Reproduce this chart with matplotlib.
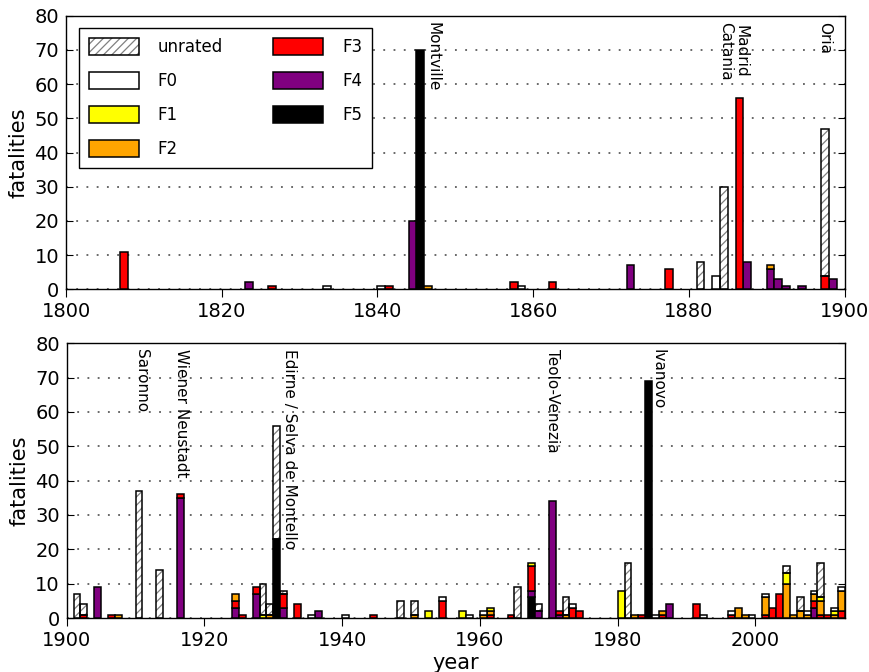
import matplotlib
matplotlib.use("Agg")
import matplotlib.pyplot as plt
import numpy as np
from matplotlib.patches import Patch
from matplotlib.legend_handler import HandlerTuple

plt.rcParams['font.family'] = ['DejaVu Sans']
plt.rcParams['hatch.linewidth'] = 0.9

ratings = ['F5', 'F4', 'F3', 'F2', 'F1', 'F0', 'unrated']
colors = {'F5': 'black', 'F4': 'purple', 'F3': 'red', 'F2': 'orange',
          'F1': 'yellow', 'F0': 'white', 'unrated': 'white'}

# ---- 19th century ----
top_years = [1807, 1823, 1826, 1833, 1840, 1841, 1844, 1845, 1846, 1857, 1858,
             1862, 1872, 1877, 1881, 1883, 1884, 1886, 1887, 1890, 1891, 1892,
             1894, 1897, 1898]
top_F5 = [0, 0, 0, 0, 0, 0, 0, 70, 0, 0, 0, 0, 0, 0, 0, 0, 0, 0, 0, 0, 0, 0, 0, 0, 0]
top_F4 = [0, 2, 0, 0, 0, 0, 20, 0, 0, 0, 0, 0, 7, 0, 0, 0, 0, 0, 8, 6, 3, 1, 1, 0, 3]
top_F3 = [11, 0, 1, 0, 0, 1, 0, 0, 0, 2, 0, 2, 0, 6, 0, 0, 0, 56, 0, 0, 0, 0, 0, 4, 0]
top_F2 = [0, 0, 0, 0, 0, 0, 0, 0, 1, 0, 0, 0, 0, 0, 0, 0, 0, 0, 0, 1, 0, 0, 0, 0, 0]
top_F1 = [0] * 25
top_F0 = [0, 0, 0, 1, 1, 0, 0, 0, 0, 0, 1, 0, 0, 0, 0, 4, 0, 0, 0, 0, 0, 0, 0, 0, 0]
top_U = [0, 0, 0, 0, 0, 0, 0, 0, 0, 0, 0, 0, 0, 0, 8, 0, 30, 0, 0, 0, 0, 0, 0, 43, 0]

top_labels = ['Montville', 'Madrid\nCatania', 'Oria']
top_label_x = [1847.2, 1885.7, 1897.5]

# ---- 20th/21st century ----
bot_years = [1901, 1902, 1904, 1906, 1907, 1910, 1913, 1916, 1924, 1925, 1927,
             1928, 1929, 1930, 1931, 1933, 1935, 1936, 1940, 1944, 1948, 1950,
             1952, 1954, 1957, 1958, 1960, 1961, 1964, 1965, 1967, 1968, 1970,
             1971, 1972, 1973, 1974, 1980, 1981, 1982, 1983, 1984, 1985, 1986,
             1987, 1991, 1992, 1996, 1997, 1998, 1999, 2001, 2002, 2003, 2004,
             2005, 2006, 2007, 2008, 2009, 2010, 2011, 2012]
bot_F5 = [0, 0, 0, 0, 0, 0, 0, 0, 0, 0, 0, 0, 0, 23, 0, 0, 0, 0, 0, 0, 0, 0,
          0, 0, 0, 0, 0, 0, 0, 0, 6, 0, 0, 0, 0, 0, 0, 0, 0, 0, 0, 69, 0, 0,
          0, 0, 0, 0, 0, 0, 0, 0, 0, 0, 0, 0, 0, 0, 0, 0, 0, 0, 0]
bot_F4 = [0, 0, 9, 0, 0, 0, 0, 35, 3, 0, 7, 0, 0, 0, 3, 0, 0, 2, 0, 0, 0, 0,
          0, 0, 0, 0, 0, 0, 0, 0, 2, 2, 34, 1, 0, 0, 0, 0, 0, 0, 0, 0, 0, 0,
          4, 0, 0, 0, 0, 0, 0, 0, 0, 0, 0, 0, 0, 0, 3, 0, 0, 0, 0]
bot_F3 = [0, 1, 0, 1, 0, 0, 0, 1, 2, 1, 2, 0, 0, 0, 4, 4, 0, 0, 0, 1, 0, 0,
          0, 5, 0, 0, 0, 1, 1, 0, 7, 0, 0, 1, 0, 3, 2, 0, 0, 0, 1, 0, 0, 1,
          0, 4, 0, 1, 0, 0, 0, 1, 3, 7, 0, 0, 0, 0, 2, 1, 1, 0, 2]
bot_F2 = [0, 0, 0, 0, 1, 0, 0, 0, 2, 0, 0, 0, 1, 0, 0, 0, 0, 0, 0, 0, 0, 1,
          0, 0, 0, 0, 1, 1, 0, 0, 0, 0, 0, 0, 1, 0, 0, 0, 0, 1, 0, 0, 0, 1,
          0, 0, 0, 0, 3, 1, 0, 5, 0, 0, 10, 1, 2, 1, 2, 4, 0, 1, 6]
bot_F1 = [0, 0, 0, 0, 0, 0, 0, 0, 0, 0, 0, 1, 0, 0, 0, 0, 0, 0, 0, 0, 0, 0,
          2, 0, 2, 0, 0, 1, 0, 0, 1, 0, 0, 0, 0, 0, 0, 8, 0, 0, 0, 0, 0, 0,
          0, 0, 0, 0, 0, 0, 0, 0, 0, 0, 3, 0, 0, 0, 0, 1, 0, 1, 0]
bot_F0 = [0, 0, 0, 0, 0, 0, 0, 0, 0, 0, 0, 0, 0, 0, 0, 0, 1, 0, 1, 0, 0, 0,
          0, 1, 0, 1, 1, 0, 0, 0, 0, 0, 0, 0, 0, 1, 0, 0, 0, 0, 0, 0, 1, 0,
          0, 0, 1, 1, 0, 0, 1, 1, 0, 0, 0, 0, 0, 1, 1, 0, 0, 1, 1]
bot_U = [7, 3, 0, 0, 0, 37, 14, 0, 0, 0, 0, 9, 3, 33, 1, 0, 0, 0, 0, 0, 5, 4,
         0, 0, 0, 0, 0, 0, 0, 9, 0, 2, 0, 0, 5, 0, 0, 0, 16, 0, 0, 0, 0, 0,
         0, 0, 0, 0, 0, 0, 0, 0, 0, 0, 2, 0, 4, 0, 0, 10, 0, 0, 0]

bot_labels = ['Saronno', 'Wiener Neustadt', 'Edirne / Selva de Montello',
              'Teolo-Venezia', 'Ivanovo']
bot_label_x = [1910.8, 1916.6, 1932.4, 1970.6, 1985.9]

yticks = [0, 10, 20, 30, 40, 50, 60, 70, 80]

W, H = 869, 672
fig = plt.figure(figsize=(W / 100, H / 100), dpi=100)
ax1 = fig.add_axes([66 / W, 1 - 289.3 / H, (844.5 - 66) / W, (289.3 - 15.7) / H])
ax2 = fig.add_axes([66.7 / W, 1 - 618 / H, (845 - 66.7) / W, (618 - 343.3) / H])


def draw(ax, years, series, xlim, xticks, labels, label_x):
    years = np.array(years)
    bottom = np.zeros(len(years))
    for r in ratings:
        vals = np.array(series[r], dtype=float)
        m = vals > 0
        if r == 'unrated':
            ax.bar(years[m], vals[m], width=1.0, bottom=bottom[m], align='edge',
                   color='white', edgecolor='0.5', hatch='////', linewidth=0,
                   zorder=2)
            ax.bar(years[m], vals[m], width=1.0, bottom=bottom[m], align='edge',
                   fill=False, edgecolor='black', linewidth=1.1, zorder=3)
        else:
            ax.bar(years[m], vals[m], width=1.0, bottom=bottom[m], align='edge',
                   color=colors[r], edgecolor='black', linewidth=1.1, zorder=3)
        bottom = bottom + vals
    ax.set_xlim(*xlim)
    ax.set_ylim(0, 80)
    ax.set_yticks(yticks)
    ax.set_xticks(xticks)
    ax.set_axisbelow(True)
    ax.yaxis.grid(True, linestyle=(0, (1.2, 5.5)), color='0.25', linewidth=1.1)
    ax.tick_params(axis='y', direction='in', left=True, right=True, length=5,
                   labelsize=14, pad=5)
    ax.tick_params(axis='x', direction='out', top=False, length=5.5,
                   labelsize=14, pad=4)
    for s in ax.spines.values():
        s.set_linewidth(1.0)
    ax.set_ylabel('fatalities', fontsize=15)
    for lab, x in zip(labels, label_x):
        ax.text(x, 78.3, lab, rotation=-90, ha='center', va='top', fontsize=11,
                rotation_mode='default', linespacing=1.0)


draw(ax1, top_years,
     {'F5': top_F5, 'F4': top_F4, 'F3': top_F3, 'F2': top_F2, 'F1': top_F1,
      'F0': top_F0, 'unrated': top_U},
     (1800, 1900), [1800, 1820, 1840, 1860, 1880, 1900], top_labels, top_label_x)
draw(ax2, bot_years,
     {'F5': bot_F5, 'F4': bot_F4, 'F3': bot_F3, 'F2': bot_F2, 'F1': bot_F1,
      'F0': bot_F0, 'unrated': bot_U},
     (1900, 2013), [1900, 1920, 1940, 1960, 1980, 2000], bot_labels, bot_label_x)
ax2.set_xlabel('year', fontsize=15, labelpad=2)

# legend
legend_order = ['unrated', 'F0', 'F1', 'F2', 'F3', 'F4', 'F5']
handles = []
for r in legend_order:
    if r == 'unrated':
        handles.append((Patch(facecolor='white', edgecolor='0.5', hatch='////', linewidth=0),
                        Patch(facecolor='none', edgecolor='black', linewidth=1.1)))
    else:
        handles.append(Patch(facecolor=colors[r], edgecolor='black', linewidth=1.1))
leg = ax1.legend(handles, legend_order, ncol=2, loc='upper left',
                 handler_map={tuple: HandlerTuple(ndivide=1)},
                 fontsize=12, handlelength=3.0, handleheight=1.2,
                 handletextpad=1.15, labelspacing=0.95, columnspacing=3.0,
                 borderaxespad=0.75, borderpad=0.6, fancybox=False,
                 framealpha=1, edgecolor='black')
leg.get_frame().set_linewidth(1.0)

fig.savefig('out.png', dpi=100)
